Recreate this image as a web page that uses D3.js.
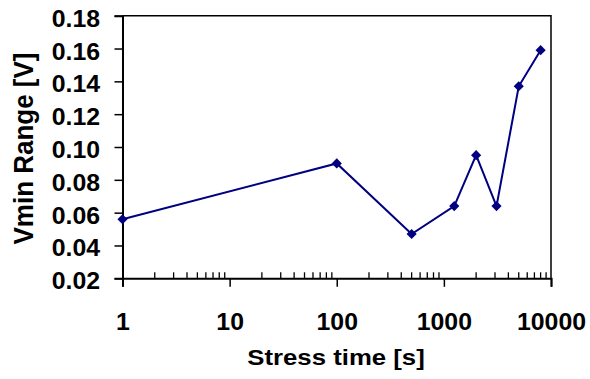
<!DOCTYPE html>
<html>
<head>
<meta charset="utf-8">
<script src="https://cdn.jsdelivr.net/npm/d3@7"></script>
<style>
  body { margin: 0; background: #fff; }
  text { font-family: "Liberation Sans", Arial, sans-serif; font-weight: bold; fill: #000; }
</style>
</head>
<body>
<div id="chart"></div>
<script>
(function(){

    // stress times [s] and measured Vmin range [V]
    const stressTimes = [1, 100, 500, 1250, 2000, 3100, 5000, 8000];
    const vminRange = [0.056, 0.090, 0.047, 0.064, 0.095, 0.064, 0.137, 0.159];
    const xTickValues = [1, 10, 100, 1000, 10000];
    const yTickValues = [0.02, 0.04, 0.06, 0.08, 0.10, 0.12, 0.14, 0.16, 0.18];

    const width = 590, height = 379;
    const left = 122.5, right = 551, top = 15.7, bottom = 278.3;
    const stretch = 1.08; // original text is a bit wider than plain Arial

    const svg = d3.select("#chart").append("svg")
        .attr("width", width)
        .attr("height", height);

    const x = d3.scaleLog().domain([1, 10000]).range([left, right]);
    const y = d3.scaleLinear().domain([0.02, 0.18]).range([bottom, top]);

    // frame: thin top/right, heavier left/bottom
    svg.append("path")
        .attr("d", `M${left},${top}H${right}V${bottom}`)
        .attr("fill", "none").attr("stroke", "#000").attr("stroke-width", 1.5);

    // y axis
    const yAxis = svg.append("g")
        .attr("transform", `translate(${left},0)`)
        .call(d3.axisLeft(y).tickValues(yTickValues).tickSize(8).tickFormat(""));
    yAxis.select(".domain").attr("stroke-width", 2);
    yAxis.selectAll(".tick line").attr("stroke-width", 1.5);

    yAxis.selectAll(".tick").append("text")
        .attr("text-anchor", "end")
        .attr("transform", `translate(-22.5,10.5) scale(${stretch},1)`)
        .attr("font-size", 23)
        .text(d => d.toFixed(2));

    // x axis: major ticks down, minor ticks up
    const xAxis = svg.append("g")
        .attr("transform", `translate(0,${bottom})`)
        .call(d3.axisBottom(x).tickValues(xTickValues).tickSize(8.5).tickFormat(""));
    xAxis.select(".domain").attr("stroke-width", 2);
    xAxis.selectAll(".tick line").attr("stroke-width", 1.5);

    const minor = x.ticks().filter(t => !xTickValues.includes(t));
    xAxis.selectAll(".minor")
        .data(minor)
        .enter().append("line")
        .attr("class", "minor")
        .attr("x1", d => x(d)).attr("x2", d => x(d))
        .attr("y1", 0).attr("y2", -6)
        .attr("stroke", "#000").attr("stroke-width", 1.3);

    xAxis.selectAll(".tick").append("text")
        .attr("text-anchor", "middle")
        .attr("transform", `translate(0,52) scale(${stretch},1)`)
        .attr("font-size", 23)
        .text(d => d);

    // axis titles
    svg.append("text")
        .attr("text-anchor", "middle")
        .attr("transform", `translate(336,365) scale(1.12,1)`)
        .attr("font-size", 23)
        .text("Stress time [s]");

    svg.append("text")
        .attr("text-anchor", "middle")
        .attr("transform", `translate(33,148.5) scale(${stretch},1) rotate(-90)`)
        .attr("font-size", 26)
        .text("Vmin Range [V]");

    // series
    const points = stressTimes.map((t, i) => ({ t: t, v: vminRange[i] }));

    svg.append("path")
        .datum(points)
        .attr("fill", "none")
        .attr("stroke", "#000080")
        .attr("stroke-width", 2)
        .attr("d", d3.line().x(d => x(d.t)).y(d => y(d.v)));

    svg.selectAll(".marker")
        .data(points)
        .enter().append("path")
        .attr("class", "marker")
        .attr("fill", "#000080")
        .attr("transform", d => `translate(${x(d.t)},${y(d.v)})`)
        .attr("d", d3.symbol().type(d3.symbolDiamond2).size(66));

})();
</script>
</body>
</html>
